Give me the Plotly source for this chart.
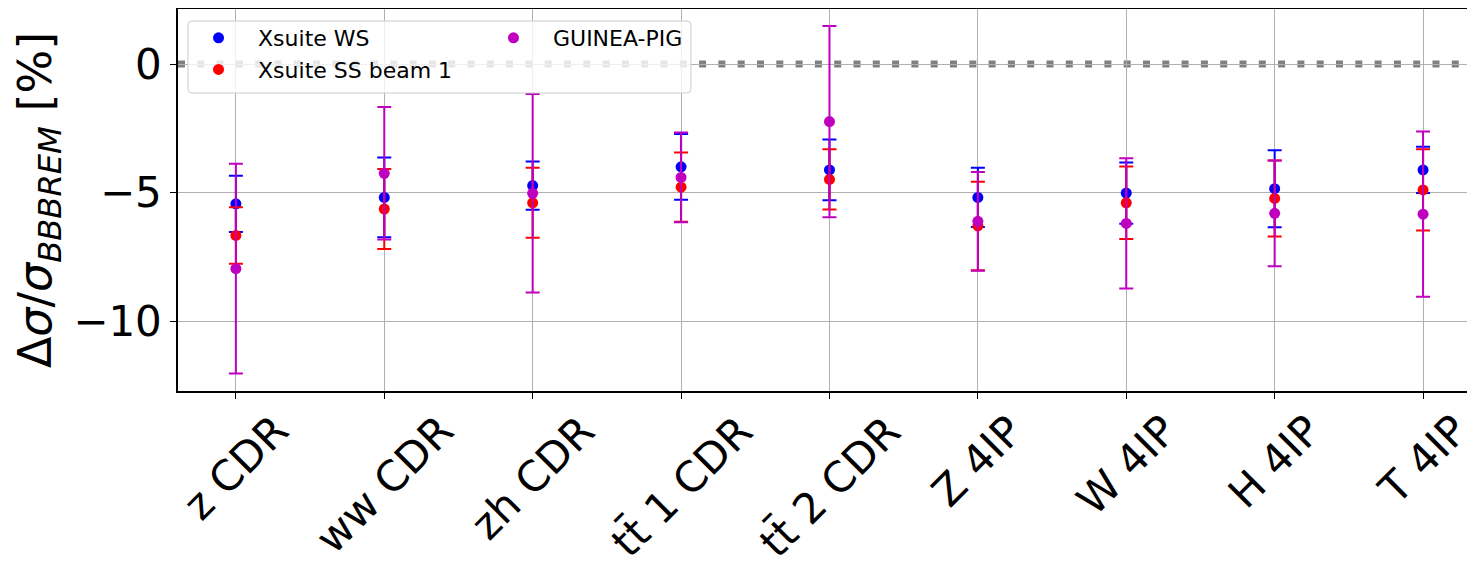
import plotly.graph_objects as go

categories = ["z CDR", "ww CDR", "zh CDR", "tt\u0304 1 CDR", "tt\u0304 2 CDR",
              "Z 4IP", "W 4IP", "H 4IP", "T 4IP"]

ws_val = [-5.44, -5.19, -4.73, -4.00, -4.12, -5.19, -5.02, -4.85, -4.12]
ws_err = [1.09, 1.55, 0.94, 1.28, 1.18, 1.15, 1.19, 1.50, 0.90]

ss_val = [-6.67, -5.64, -5.40, -4.79, -4.49, -6.30, -5.40, -5.23, -4.90]
ss_err = [1.10, 1.56, 1.36, 1.35, 1.17, 1.72, 1.41, 1.48, 1.58]

gp_val = [-7.96, -4.25, -5.03, -4.41, -2.24, -6.12, -6.20, -5.81, -5.84]
gp_err = [4.08, 2.58, 3.86, 1.75, 3.72, 1.92, 2.53, 2.06, 3.21]

y_ticks = [0, -5, -10]
y_ticktext = ["0", "\u22125", "\u221210"]

FONT = "DejaVu Sans"
xs = list(range(len(categories)))

fig = go.Figure()

series = [
    ("Xsuite WS", ws_val, ws_err, "#0000ff", "legend"),
    ("Xsuite SS beam 1", ss_val, ss_err, "#ff0000", "legend"),
    ("GUINEA-PIG", gp_val, gp_err, "#bf00bf", "legend2"),
]
for name, vals, errs, col, leg in series:
    fig.add_trace(go.Scatter(
        x=xs, y=vals, mode="markers", name=name, legend=leg,
        marker=dict(color=col, size=11),
        error_y=dict(type="data", array=errs, visible=True, color=col,
                     thickness=2, width=7),
    ))

# dotted zero line
fig.add_shape(type="line", xref="paper", x0=0, x1=1, yref="y", y0=0, y1=0,
              line=dict(color="#808080", width=7, dash="7px,12.3px"), layer="between")

# legend frame (semi-transparent, above data)
x0, x1, y0, y1 = 0.0077, 0.3955, 0.7801, 0.9686
rx, ry = 4 / 1297, 4 / 382
path = (f"M {x0+rx},{y0} L {x1-rx},{y0} Q {x1},{y0} {x1},{y0+ry} "
        f"L {x1},{y1-ry} Q {x1},{y1} {x1-rx},{y1} L {x0+rx},{y1} "
        f"Q {x0},{y1} {x0},{y1-ry} L {x0},{y0+ry} Q {x0},{y0} {x0+rx},{y0} Z")
fig.add_shape(type="path", xref="paper", yref="paper", path=path,
              fillcolor="rgba(255,255,255,0.8)", line=dict(color="#cccccc", width=1),
              layer="above")

# rotated category labels
for i, c in enumerate(categories):
    fig.add_annotation(x=i, y=0, xref="x", yref="paper", yshift=-12,
                       text=c, textangle=-45, showarrow=False,
                       xanchor="center", yanchor="top",
                       font=dict(family=FONT, size=42, color="black"))

leg_common = dict(orientation="v", yanchor="top", xanchor="left",
                  bgcolor="rgba(0,0,0,0)", borderwidth=0, itemwidth=69,
                  font=dict(family=FONT, size=22, color="black"))

fig.update_layout(
    width=1467, height=567,
    margin=dict(l=170, r=0, t=1, b=184),
    plot_bgcolor="white", paper_bgcolor="white",
    font=dict(family=FONT, color="black"),
    showlegend=True,
    legend=dict(x=0.0008, y=0.979, **leg_common),
    legend2=dict(x=0.2282, y=0.979, **leg_common),
    xaxis=dict(range=[-0.39, 8.35], tickvals=xs, showticklabels=False,
               showgrid=True, gridcolor="#b0b0b0", gridwidth=1,
               showline=True, linecolor="black", linewidth=1.5, mirror=True,
               ticks="outside", ticklen=6, tickcolor="black", zeroline=False,
               automargin=False),
    yaxis=dict(range=[-12.72, 2.14], tickvals=y_ticks, ticktext=y_ticktext,
               showgrid=True, gridcolor="#b0b0b0", gridwidth=1,
               showline=True, linecolor="black", linewidth=1.5, mirror=True,
               ticks="outside", ticklen=6, tickcolor="black", zeroline=False,
               automargin=False,
               tickfont=dict(family=FONT, size=42, color="black"),
               title=dict(text="\u0394<i>\u03c3</i>/<i>\u03c3<sub>BBBREM</sub></i> [%]",
                          font=dict(family=FONT, size=46, color="black"),
                          standoff=17)),
)

fig.write_html("out.html")
